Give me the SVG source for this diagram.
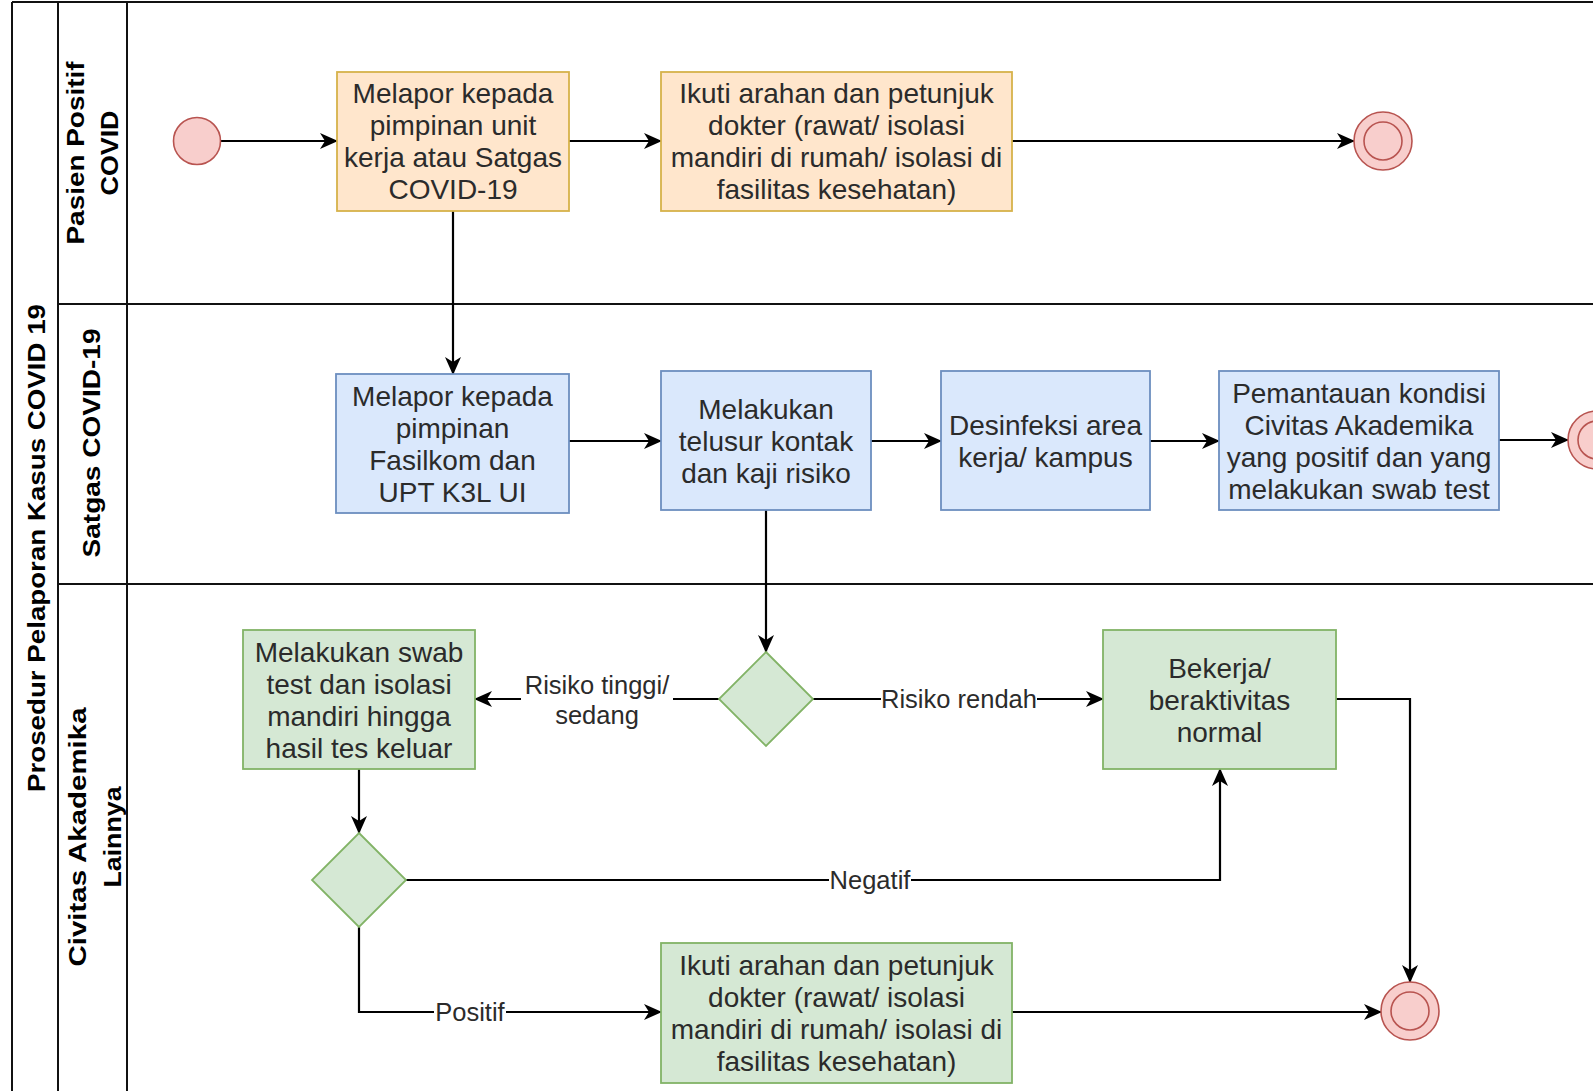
<svg xmlns="http://www.w3.org/2000/svg" width="1593" height="1091" viewBox="0 0 1593 1091">
<style>
.pool{fill:none;stroke:#111;stroke-width:2}
.lbl{font-family:"Liberation Sans",Arial,sans-serif;font-weight:bold;font-size:23px;fill:#000}
.t{font-family:"Liberation Sans",Arial,sans-serif;font-size:28px;fill:#2b2b2b;text-anchor:middle}
.e{font-family:"Liberation Sans",Arial,sans-serif;font-size:25.5px;fill:#2b2b2b;text-anchor:middle}
.or{fill:#ffe6cc;stroke:#d6b24a;stroke-width:1.8}
.bl{fill:#dae8fc;stroke:#6c8ebf;stroke-width:1.8}
.gr{fill:#d5e8d4;stroke:#82b366;stroke-width:1.8}
.ev{fill:#f8cecc;stroke:#b85450;stroke-width:1.6}
.c{fill:none;stroke:#000;stroke-width:2.2}
.a{marker-end:url(#arr)}
.bg{fill:#fff}
</style>
<defs>
<marker id="arr" viewBox="0 0 18 16" refX="17" refY="8" markerWidth="18" markerHeight="16" markerUnits="userSpaceOnUse" orient="auto">
<path d="M0,0 L18,8 L0,16 L5,8 Z" fill="#000"/>
</marker>
</defs>
<rect width="1593" height="1091" fill="#fff"/>

<g id="pool">
<line class="pool" x1="12" y1="2" x2="1593" y2="2"/>
<line class="pool" x1="12" y1="2" x2="12" y2="1091"/>
<line class="pool" x1="58" y1="2" x2="58" y2="1091"/>
<line class="pool" x1="127" y1="2" x2="127" y2="1091"/>
<line class="pool" x1="58" y1="304" x2="1593" y2="304"/>
<line class="pool" x1="58" y1="584" x2="1593" y2="584"/>
<text class="lbl" text-anchor="middle" transform="translate(36,548) rotate(-90)" y="8.5" textLength="488" lengthAdjust="spacingAndGlyphs">Prosedur Pelaporan Kasus COVID 19</text>
</g>
<g id="lane1">
<text class="lbl" text-anchor="middle" transform="translate(75,153) rotate(-90)" y="8.5" textLength="183" lengthAdjust="spacingAndGlyphs">Pasien Positif</text>
<text class="lbl" text-anchor="middle" transform="translate(109,153) rotate(-90)" y="8.5" textLength="85" lengthAdjust="spacingAndGlyphs">COVID</text>
</g>
<g id="lane2">
<text class="lbl" text-anchor="middle" transform="translate(91,443) rotate(-90)" y="8.5" textLength="229" lengthAdjust="spacingAndGlyphs">Satgas COVID-19</text>
</g>
<g id="lane3">
<text class="lbl" text-anchor="middle" transform="translate(77,837) rotate(-90)" y="8.5" textLength="259" lengthAdjust="spacingAndGlyphs">Civitas Akademika</text>
<text class="lbl" text-anchor="middle" transform="translate(112,837) rotate(-90)" y="8.5" textLength="101" lengthAdjust="spacingAndGlyphs">Lainnya</text>
</g>

<g id="connectors">
<line class="c a" x1="221" y1="141" x2="337" y2="141"/>
<line class="c a" x1="569" y1="141" x2="661" y2="141"/>
<line class="c a" x1="1012" y1="141" x2="1354" y2="141"/>
<line class="c a" x1="453" y1="211" x2="453" y2="374"/>
<line class="c a" x1="569" y1="441" x2="661" y2="441"/>
<line class="c a" x1="871" y1="441" x2="941" y2="441"/>
<line class="c a" x1="1150" y1="441" x2="1219" y2="441"/>
<line class="c a" x1="1499" y1="440" x2="1568" y2="440"/>
<line class="c a" x1="766" y1="510" x2="766" y2="652"/>
<line class="c a" x1="719" y1="699" x2="475" y2="699"/>
<line class="c a" x1="813" y1="699" x2="1103" y2="699"/>
<line class="c a" x1="359" y1="769" x2="359" y2="833"/>
<polyline class="c a" points="406,880 1220,880 1220,769"/>
<polyline class="c a" points="359,927 359,1012 661,1012"/>
<line class="c a" x1="1012" y1="1012" x2="1381" y2="1012"/>
<polyline class="c a" points="1336,699 1410,699 1410,982"/>
<rect class="bg" x="521" y="670" width="152" height="58"/>
<text class="e" x="597" y="694">Risiko tinggi/</text>
<text class="e" x="597" y="724">sedang</text>
<rect class="bg" x="881" y="686" width="156" height="26"/>
<text class="e" x="959" y="708">Risiko rendah</text>
<rect class="bg" x="829" y="867" width="82" height="26"/>
<text class="e" x="870" y="889">Negatif</text>
<rect class="bg" x="434" y="999" width="72" height="26"/>
<text class="e" x="470" y="1021">Positif</text>
</g>

<g id="start">
<circle class="ev" cx="197" cy="141" r="23.5"/>
</g>
<g id="boxA">
<rect class="or" x="337" y="72" width="232" height="139"/>
<text class="t" x="453" y="103">Melapor kepada</text>
<text class="t" x="453" y="135">pimpinan unit</text>
<text class="t" x="453" y="167">kerja atau Satgas</text>
<text class="t" x="453" y="199">COVID-19</text>
</g>
<g id="boxB">
<rect class="or" x="661" y="72" width="351" height="139"/>
<text class="t" x="836.5" y="103">Ikuti arahan dan petunjuk</text>
<text class="t" x="836.5" y="135">dokter (rawat/ isolasi</text>
<text class="t" x="836.5" y="167">mandiri di rumah/ isolasi di</text>
<text class="t" x="836.5" y="199">fasilitas kesehatan)</text>
</g>
<g id="end1">
<circle class="ev" cx="1383" cy="141" r="29"/>
<circle class="ev" cx="1383" cy="141" r="19"/>
</g>
<g id="boxC">
<rect class="bl" x="336" y="374" width="233" height="139"/>
<text class="t" x="452.5" y="405.5">Melapor kepada</text>
<text class="t" x="452.5" y="437.5">pimpinan</text>
<text class="t" x="452.5" y="469.5">Fasilkom dan</text>
<text class="t" x="452.5" y="501.5">UPT K3L UI</text>
</g>
<g id="boxD">
<rect class="bl" x="661" y="371" width="210" height="139"/>
<text class="t" x="766" y="418.5">Melakukan</text>
<text class="t" x="766" y="450.5">telusur kontak</text>
<text class="t" x="766" y="482.5">dan kaji risiko</text>
</g>
<g id="boxE">
<rect class="bl" x="941" y="371" width="209" height="139"/>
<text class="t" x="1045.5" y="434.5">Desinfeksi area</text>
<text class="t" x="1045.5" y="466.5">kerja/ kampus</text>
</g>
<g id="boxF">
<rect class="bl" x="1219" y="371" width="280" height="139"/>
<text class="t" x="1359" y="402.5">Pemantauan kondisi</text>
<text class="t" x="1359" y="434.5">Civitas Akademika</text>
<text class="t" x="1359" y="466.5">yang positif dan yang</text>
<text class="t" x="1359" y="498.5">melakukan swab test</text>
</g>
<g id="end2">
<circle class="ev" cx="1597" cy="440" r="29"/>
<circle class="ev" cx="1597" cy="440" r="19"/>
</g>
<g id="boxG">
<rect class="gr" x="243" y="630" width="232" height="139"/>
<text class="t" x="359" y="661.5">Melakukan swab</text>
<text class="t" x="359" y="693.5">test dan isolasi</text>
<text class="t" x="359" y="725.5">mandiri hingga</text>
<text class="t" x="359" y="757.5">hasil tes keluar</text>
</g>
<g id="gateway1">
<polygon class="gr" points="766,652 813,699 766,746 719,699"/>
</g>
<g id="boxH">
<rect class="gr" x="1103" y="630" width="233" height="139"/>
<text class="t" x="1219.5" y="677.5">Bekerja/</text>
<text class="t" x="1219.5" y="709.5">beraktivitas</text>
<text class="t" x="1219.5" y="741.5">normal</text>
</g>
<g id="gateway2">
<polygon class="gr" points="359,833 406,880 359,927 312,880"/>
</g>
<g id="boxI">
<rect class="gr" x="661" y="943" width="351" height="140"/>
<text class="t" x="836.5" y="975">Ikuti arahan dan petunjuk</text>
<text class="t" x="836.5" y="1007">dokter (rawat/ isolasi</text>
<text class="t" x="836.5" y="1039">mandiri di rumah/ isolasi di</text>
<text class="t" x="836.5" y="1071">fasilitas kesehatan)</text>
</g>
<g id="end3">
<circle class="ev" cx="1410" cy="1011" r="29"/>
<circle class="ev" cx="1410" cy="1011" r="19"/>
</g>
</svg>
